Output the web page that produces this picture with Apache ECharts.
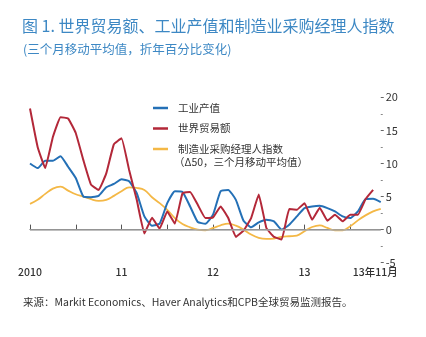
<!DOCTYPE html>
<html>
<head>
<meta charset="utf-8">
<script src="https://cdn.jsdelivr.net/npm/echarts@6/dist/echarts.min.js"></script>
<style>
html,body{margin:0;padding:0;background:#fff;}
#chart{width:426px;height:337px;}
</style>
</head>
<body>
<div id="chart"></div>
<script>
const months = [
 '2010-01','2010-02','2010-03','2010-04','2010-05','2010-06','2010-07','2010-08','2010-09','2010-10','2010-11','2010-12',
 '2011-01','2011-02','2011-03','2011-04','2011-05','2011-06','2011-07','2011-08','2011-09','2011-10','2011-11','2011-12',
 '2012-01','2012-02','2012-03','2012-04','2012-05','2012-06','2012-07','2012-08','2012-09','2012-10','2012-11','2012-12',
 '2013-01','2013-02','2013-03','2013-04','2013-05','2013-06','2013-07','2013-08','2013-09','2013-10','2013-11'
];
const tickLabels = {'2010-01':'2010','2011-01':'11','2012-01':'12','2013-01':'13','2013-11':'13年11月'};
const seriesNames = ['工业产值','世界贸易额','制造业采购经理人指数'];
const pmiNote = '（Δ50，三个月移动平均值）';
const industrialProduction = [10.0,9.3,10.4,10.4,11.1,9.5,7.8,5.0,4.9,5.1,6.4,6.9,
 7.6,7.3,5.5,2.0,0.6,0.9,4.0,5.8,5.7,3.5,1.15,0.9,
 2.25,5.8,6.0,4.5,1.35,0.35,1.1,1.5,1.25,0,0.75,2.0,
 3.25,3.5,3.6,3.25,2.75,2.0,1.75,2.75,4.6,4.65,4.15];
const worldTrade = [18.3,12.5,9.3,14.0,17.0,16.8,14.6,10.5,6.8,6.0,8.5,12.9,
 13.8,9.0,4.5,-0.6,1.8,0.15,2.75,0.9,5.5,5.7,3.75,1.75,
 1.85,3.5,1.75,-1.1,-0.15,1.75,5.3,0.25,-1.1,-1.5,3.1,3.0,
 4.0,1.5,3.3,1.35,2.25,1.25,2.25,2.25,4.6,6.0];
const pmi = [3.9,4.5,5.4,6.2,6.5,5.9,5.35,5.0,4.6,4.35,4.5,5.1,
 5.8,6.4,6.3,6.0,4.9,4.0,3.0,1.75,0.85,0.35,0,-0.1,
 0.25,0.65,0.9,0.6,0,-0.75,-1.25,-1.4,-1.35,-1.1,-1.0,-0.9,
 -0.25,0.4,0.65,0.25,-0.1,-0.1,0.5,1.4,2.15,2.75,3.15];

const FONT = '"Noto Sans CJK SC","Noto Sans",sans-serif';
const BLUE = '#2470b6', RED = '#b32839', YEL = '#f4b846';
const chart = echarts.init(document.getElementById('chart'), null, {renderer:'canvas'});
chart.setOption({
  animation:false,
  backgroundColor:'#fff',
  textStyle:{fontFamily:FONT},
  title:[
    {text:'图 1. 世界贸易额、工业产值和制造业采购经理人指数', left:17, top:13,
     textStyle:{fontFamily:FONT, fontSize:16, fontWeight:'normal', color:'#3d88c4'}},
    {text:'(三个月移动平均值，折年百分比变化)', left:18, top:38,
     textStyle:{fontFamily:FONT, fontSize:12.5, fontWeight:'normal', color:'#3d88c4'}},
    {text:'来源：Markit Economics、Haver Analytics和CPB全球贸易监测报告。', left:18, top:292,
     textStyle:{fontFamily:FONT, fontSize:10.5, fontWeight:'normal', color:'#333'}}
  ],
  legend:{
    orient:'vertical', left:153, top:101, padding:0,
    data:seriesNames,
    icon:'rect', itemWidth:15, itemHeight:2.5, itemGap:6.5,
    textStyle:{fontFamily:FONT, fontSize:10.5, color:'#333', lineHeight:14, padding:[0,0,0,5]}
  },
  graphic:[
    {type:'text', left:174, top:157, style:{text:pmiNote, font:'10.5px '+FONT, fill:'#333'}}
  ],
  grid:{left:30, right:45.25, top:97.3, bottom:74.3, containLabel:false},
  xAxis:{
    type:'category', data:months, boundaryGap:false,
    axisLine:{lineStyle:{color:'#555', width:1}},
    axisTick:{inside:true, length:5, lineStyle:{color:'#555'}, interval:function(i){return i%6===0;}},
    axisLabel:{
      interval:function(i,v){return tickLabels[v]!==undefined;},
      formatter:function(v){return v==='2013-11' ? '{e|'+tickLabels[v]+'}' : (tickLabels[v]||'');},
      rich:{e:{fontFamily:FONT, fontSize:10.5, color:'#333', fontWeight:500, padding:[0,11,0,0]}},
      fontFamily:FONT, fontSize:10.5, color:'#333', margin:4, fontWeight:500
    },
    splitLine:{show:false}
  },
  yAxis:{
    type:'value', position:'right', min:-5, max:20, interval:5,
    axisLine:{show:false},
    axisTick:{show:true, length:3, lineStyle:{color:'#666'}},
    minorTick:{show:true, splitNumber:2, length:2, lineStyle:{color:'#888'}},
    axisLabel:{fontFamily:FONT, fontSize:11, color:'#333', margin:5},
    splitLine:{show:false}
  },
  series:[
    {name:seriesNames[2], type:'line', data:pmi, showSymbol:false, smooth:0.4,
     lineStyle:{color:YEL, width:1.8}, itemStyle:{color:YEL}, z:2,
     markLine:{silent:true, symbol:'none', label:{show:false},
       lineStyle:{color:'#aaa', width:1.5, type:'solid'}, data:[{yAxis:0}]}},
    {name:seriesNames[0], type:'line', data:industrialProduction, showSymbol:false, smooth:0.15,
     lineStyle:{color:BLUE, width:2}, itemStyle:{color:BLUE}, z:3},
    {name:seriesNames[1], type:'line', data:worldTrade, showSymbol:false, smooth:0.1,
     lineStyle:{color:RED, width:2}, itemStyle:{color:RED}, z:4}
  ]
});
</script>
</body>
</html>
